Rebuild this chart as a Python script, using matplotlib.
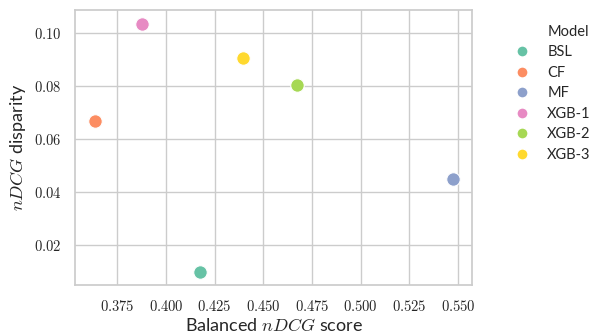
import matplotlib
matplotlib.use("Agg")
import matplotlib.pyplot as plt
import seaborn as sns
from matplotlib.lines import Line2D
from matplotlib.ticker import FuncFormatter

# values
models = ["BSL", "CF", "MF", "XGB-1", "XGB-2", "XGB-3"]
balanced_ndcg = [0.4176, 0.3637, 0.5473, 0.3877, 0.4674, 0.4398]
ndcg_disparity = [0.0099, 0.0668, 0.0451, 0.1035, 0.0804, 0.0905]

sns.set_theme(style="whitegrid")
plt.rcParams["font.family"] = ["Lato", "DejaVu Sans"]
plt.rcParams["mathtext.fontset"] = "cm"

colors = sns.color_palette("Set2", len(models))

fig, ax = plt.subplots(figsize=(5.91, 3.35), dpi=100)
fig.subplots_adjust(left=0.127, right=0.799, top=0.97, bottom=0.149)

for m, x, y, c in zip(models, balanced_ndcg, ndcg_disparity, colors):
    ax.scatter(x, y, s=95, color=c, edgecolor="white", linewidth=0.8, zorder=3, label=m)

ax.set_xlim(0.3534, 0.5572)
ax.set_ylim(0.0049, 0.1087)
ax.set_xticks([0.375, 0.400, 0.425, 0.450, 0.475, 0.500, 0.525, 0.550])
ax.set_yticks([0.02, 0.04, 0.06, 0.08, 0.10])
ax.xaxis.set_major_formatter(FuncFormatter(lambda v, p: f"${v:.3f}$"))
ax.yaxis.set_major_formatter(FuncFormatter(lambda v, p: f"${v:.2f}$"))
ax.tick_params(axis="both", labelsize=10.5, pad=4)

ax.set_xlabel("Balanced $nDCG$ score", fontsize=13, labelpad=2)
ax.set_ylabel("$nDCG$ disparity", fontsize=13, labelpad=4)

for s in ax.spines.values():
    s.set_color("#cccccc")

# legend with the title as a left-aligned entry
handles = [Line2D([], [], linestyle="none", marker="")]
labels = ["Model"]
for m, c in zip(models, colors):
    handles.append(Line2D([], [], linestyle="none", marker="o", markersize=8,
                          markerfacecolor=c, markeredgecolor="white"))
    labels.append(m)
ax.legend(handles, labels, loc="upper left", bbox_to_anchor=(1.055, 0.995),
          frameon=False, fontsize=10.5, handletextpad=0.75, labelspacing=0.45)

plt.savefig("out.png", dpi=100)
